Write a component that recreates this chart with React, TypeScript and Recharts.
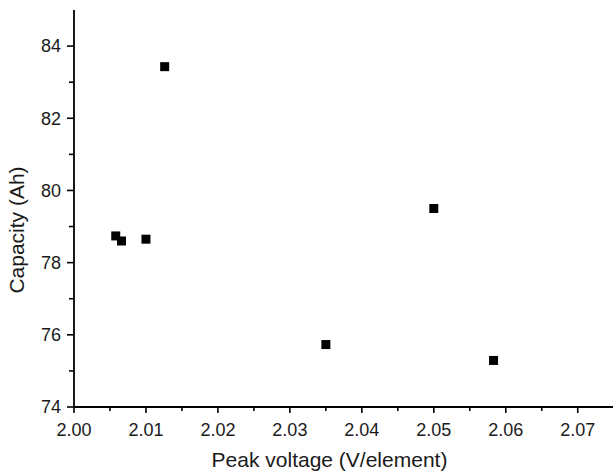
import React from 'react';
import { ScatterChart, Scatter, XAxis, YAxis } from 'recharts';

const peakVoltage = [2.0058, 2.0066, 2.01, 2.0126, 2.035, 2.05, 2.0583];
const capacity = [78.74, 78.6, 78.65, 83.43, 75.73, 79.5, 75.29];

const xTicks = [2.0, 2.005, 2.01, 2.015, 2.02, 2.025, 2.03, 2.035, 2.04, 2.045, 2.05, 2.055, 2.06, 2.065, 2.07];
const xTickLabels = ['2.00', '', '2.01', '', '2.02', '', '2.03', '', '2.04', '', '2.05', '', '2.06', '', '2.07'];
const yTicks = [74, 75, 76, 77, 78, 79, 80, 81, 82, 83, 84];
const yTickLabels = ['74', '', '76', '', '78', '', '80', '', '82', '', '84'];

const xTitle = 'Peak voltage (V/element)';
const yTitle = 'Capacity (Ah)';

const data = peakVoltage.map((v, i) => ({ v, c: capacity[i] }));

const FONT = '"Liberation Sans", Arial, Helvetica, sans-serif';
const INK = '#1a1a1a';

const XTick = (props: any) => {
  const { x, y, index } = props;
  const label = xTickLabels[index];
  const major = label !== '';
  return (
    <g>
      <line x1={x} x2={x} y1={y} y2={y + (major ? 6 : 4)} stroke="#000" strokeWidth={1.6} />
      {major && (
        <text x={x} y={y + 16} dy="0.71em" textAnchor="middle" fontSize={18} fontFamily={FONT} fill={INK}>
          {label}
        </text>
      )}
    </g>
  );
};

const YTick = (props: any) => {
  const { x, y, index } = props;
  const label = yTickLabels[index];
  const major = label !== '';
  return (
    <g>
      <line x1={x} x2={x - (major ? 7 : 5)} y1={y} y2={y} stroke="#000" strokeWidth={1.6} />
      {major && (
        <text x={x - 13} y={y} dy="0.355em" textAnchor="end" fontSize={18} fontFamily={FONT} fill={INK}>
          {label}
        </text>
      )}
    </g>
  );
};

const XTitle = (props: any) => {
  const vb = props.viewBox;
  return (
    <text x={vb.x + vb.width / 2 - 14} y={467} textAnchor="middle" fontSize={21} fontFamily={FONT} fill={INK}>
      {xTitle}
    </text>
  );
};

const YTitle = () => {
  const cx = 24;
  const cy = 230;
  return (
    <text x={cx} y={cy} transform={`rotate(-90, ${cx}, ${cy})`} textAnchor="middle" fontSize={21} fontFamily={FONT} fill={INK}>
      {yTitle}
    </text>
  );
};

const SquareDot = (props: any) => {
  const { cx, cy } = props;
  return <rect x={cx - 4.5} y={cy - 4.5} width={9} height={9} fill="#000" />;
};

export default function App() {
  return (
    <div style={{ position: 'absolute', left: 0, top: 0, background: '#fff' }}>
      <ScatterChart width={613} height={474} margin={{ top: 10, right: 0, bottom: 0, left: 0 }}>
        <XAxis
          type="number"
          dataKey="v"
          domain={[2.0, 2.0749]}
          allowDataOverflow
          ticks={xTicks}
          interval={0}
          height={67}
          tickSize={0}
          tickMargin={0}
          tickLine={false}
          tick={<XTick />}
          axisLine={{ stroke: '#000', strokeWidth: 1.8 }}
          label={<XTitle />}
        />
        <YAxis
          type="number"
          dataKey="c"
          domain={[74, 85]}
          allowDataOverflow
          ticks={yTicks}
          interval={0}
          width={74}
          tickSize={0}
          tickMargin={0}
          tickLine={false}
          tick={<YTick />}
          axisLine={{ stroke: '#000', strokeWidth: 1.8 }}
          label={<YTitle />}
        />
        <Scatter data={data} fill="#000" shape={<SquareDot />} isAnimationActive={false} />
      </ScatterChart>
    </div>
  );
}
